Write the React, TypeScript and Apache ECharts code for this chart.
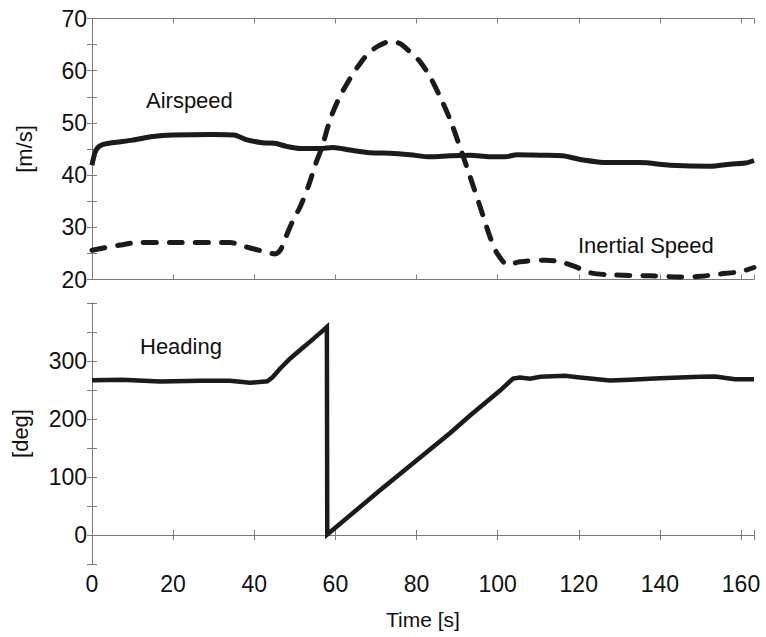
import React, { useEffect, useRef } from "react";
import * as echarts from "echarts";

const airT = [0, 1, 2.5, 5, 10, 15, 20, 30, 35, 38, 42, 45, 48, 51.3, 56.2, 59.4, 63.6, 68.5, 73.5, 78.4, 83.3, 88.3, 93.2, 98.1, 101.8, 104.8, 110.5, 116, 120.3, 127, 135, 142.5, 152.4, 157.3, 161, 163.2];
const airV = [41.9, 44.8, 45.8, 46.2, 46.7, 47.4, 47.7, 47.8, 47.7, 46.8, 46.2, 46.1, 45.5, 45.1, 45.1, 45.3, 44.8, 44.3, 44.2, 43.9, 43.5, 43.7, 43.8, 43.5, 43.5, 43.9, 43.8, 43.7, 43.0, 42.4, 42.4, 41.9, 41.7, 42.1, 42.3, 42.8];

const inT = [0, 6.9, 11.8, 20, 34, 37.7, 42.7, 45.1, 46.4, 47.5, 49.6, 51.3, 53.3, 55.2, 56.7, 58.7, 60.7, 63.6, 66.1, 68.5, 71, 73.5, 75.9, 78.4, 80.9, 83.3, 85.8, 88.3, 90.7, 93.2, 95.7, 98.1, 99.8, 102.6, 105.5, 111.7, 115.4, 119, 122.8, 127.7, 137.6, 145, 150, 154.8, 159.8, 163.2];
const inV = [25.6, 26.6, 27.1, 27.1, 27.1, 26.3, 25.3, 24.9, 25.6, 27.6, 31.4, 33.9, 37.8, 42.3, 45.4, 50.6, 54.4, 58.5, 61.4, 63.6, 64.9, 65.6, 65.2, 63.6, 61.7, 58.9, 55.0, 50.6, 45.4, 39.7, 33.9, 28.2, 25.1, 22.8, 23.4, 23.7, 23.4, 22.5, 21.3, 20.9, 20.7, 20.5, 20.6, 21.05, 21.5, 22.3];

const headT = [0, 7.4, 16.8, 26.6, 34, 39, 43.2, 44.5, 46.4, 48.8, 51.3, 53.7, 56.2, 57.9, 58.0, 71, 88.3, 93.2, 100.6, 103.8, 105.5, 108, 110.5, 116.6, 120.3, 127.7, 132.6, 140, 150, 153.6, 158.5, 163.2];
const headV = [267, 267.6, 264.7, 265.9, 265.9, 262.5, 265, 272, 287, 304, 319, 333, 348, 358.5, 1, 77, 176, 206, 249, 269.8, 271.5, 269.5, 272.7, 274.4, 271.5, 266.5, 267.6, 270.4, 272.7, 273.3, 268.7, 268.7];

const xTicks = [0, 20, 40, 60, 80, 100, 120, 140, 160];
const speedLabels = [20, 30, 40, 50, 60, 70];
const headingLabels = [0, 100, 200, 300];

const pairs = (t: number[], v: number[]) => t.map((x, i) => [x, v[i]]);

const FONT = "'Liberation Sans', Arial, sans-serif";
const AXIS_COLOR = "#7a7a7a";
const LINE_COLOR = "#1c1a1a";

export default function App() {
  const ref = useRef<HTMLDivElement>(null);
  useEffect(() => {
    if (!ref.current) return;
    const chart = echarts.init(ref.current, null, { renderer: "svg" });
    const axisLine = { show: true, lineStyle: { color: AXIS_COLOR, width: 1 } };
    const tick = { show: true, inside: true, length: 5, lineStyle: { color: AXIS_COLOR } };
    const labelStyle = { color: "#111", fontSize: 23, fontFamily: FONT };
    const baseX = (gridIndex: number, position: "bottom" | "top", labels: boolean) => ({
      type: "value",
      gridIndex,
      position,
      min: 0,
      max: 163.2,
      interval: 20,
      axisLine,
      axisTick: tick,
      splitLine: { show: false },
      axisLabel: labels
        ? { show: true, ...labelStyle, margin: 8, formatter: (v: number) => (xTicks.includes(v) ? String(v) : "") }
        : { show: false },
    });
    const option: any = {
      animation: false,
      backgroundColor: "#ffffff",
      grid: [
        { left: 92, top: 18.5, width: 662, height: 261, containLabel: false },
        { left: 92, top: 303, width: 662, height: 261, containLabel: false },
      ],
      xAxis: [
        baseX(0, "bottom", false),
        baseX(0, "top", false),
        {
          ...baseX(1, "bottom", true),
          name: "Time [s]",
          nameLocation: "middle",
          nameGap: 45,
          nameTextStyle: { color: "#111", fontSize: 21, fontFamily: FONT },
        },
        baseX(1, "top", false),
      ],
      yAxis: [
        {
          type: "value",
          gridIndex: 0,
          position: "left",
          min: 20,
          max: 70,
          interval: 5,
          axisLine,
          axisTick: tick,
          splitLine: { show: false },
          axisLabel: { ...labelStyle, margin: 5, formatter: (v: number) => (speedLabels.includes(v) ? String(v) : "") },
          name: "[m/s]",
          nameLocation: "middle",
          nameGap: 57,
          nameRotate: 90,
          nameTextStyle: { color: "#111", fontSize: 22, fontFamily: FONT },
        },
        {
          type: "value",
          gridIndex: 0,
          position: "right",
          min: 20,
          max: 70,
          interval: 5,
          axisLine,
          axisTick: tick,
          splitLine: { show: false },
          axisLabel: { show: false },
        },
        {
          type: "value",
          gridIndex: 1,
          position: "left",
          min: -50,
          max: 400,
          interval: 50,
          axisLine,
          axisTick: tick,
          splitLine: { show: false },
          axisLabel: { ...labelStyle, margin: 5, formatter: (v: number) => (headingLabels.includes(v) ? String(v) : "") },
          name: "[deg]",
          nameLocation: "middle",
          nameGap: 61,
          nameRotate: 90,
          nameTextStyle: { color: "#111", fontSize: 22, fontFamily: FONT },
        },
        {
          type: "value",
          gridIndex: 1,
          position: "right",
          min: -50,
          max: 400,
          interval: 50,
          axisLine,
          axisTick: tick,
          splitLine: { show: false },
          axisLabel: { show: false },
        },
      ],
      series: [
        {
          name: "Airspeed",
          type: "line",
          xAxisIndex: 0,
          yAxisIndex: 0,
          data: pairs(airT, airV),
          showSymbol: false,
          smooth: 0.3,
          lineStyle: { color: LINE_COLOR, width: 5 },
        },
        {
          name: "Inertial Speed",
          type: "line",
          xAxisIndex: 0,
          yAxisIndex: 0,
          data: pairs(inT, inV),
          showSymbol: false,
          smooth: 0.3,
          lineStyle: { color: LINE_COLOR, width: 5, type: [13, 13], cap: "round" },
        },
        {
          name: "Heading",
          type: "line",
          xAxisIndex: 2,
          yAxisIndex: 2,
          data: pairs(headT, headV),
          showSymbol: false,
          lineStyle: { color: LINE_COLOR, width: 4.5, join: "miter" },
        },
      ],
      graphic: [
        { type: "text", left: 146, top: 89, style: { text: "Airspeed", fontSize: 22, fontFamily: FONT, fill: "#111" } },
        { type: "text", left: 578, top: 234, style: { text: "Inertial Speed", fontSize: 22, fontFamily: FONT, fill: "#111" } },
        { type: "text", left: 140, top: 335, style: { text: "Heading", fontSize: 22, fontFamily: FONT, fill: "#111" } },
      ],
    };
    chart.setOption(option);
    return () => chart.dispose();
  }, []);
  return (
    <div
      ref={ref}
      style={{ position: "absolute", left: 0, top: 0, width: 766, height: 637, background: "#fff" }}
    />
  );
}
